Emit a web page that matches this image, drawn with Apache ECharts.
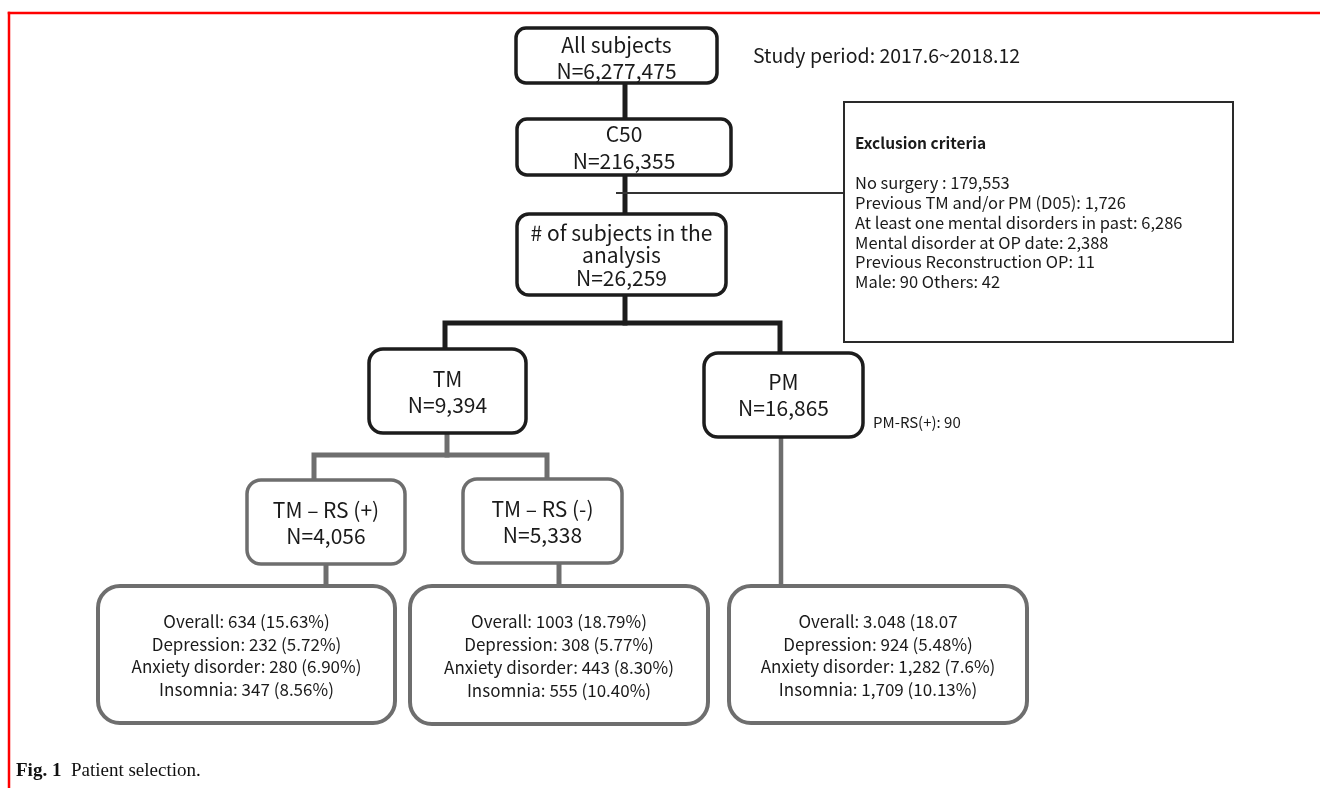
<!DOCTYPE html>
<html>
<head>
<meta charset="utf-8">
<script src="https://cdn.jsdelivr.net/npm/echarts@6/dist/echarts.min.js"></script>
<style>
  html, body { margin: 0; padding: 0; background: #fff; }
  #chart { width: 1320px; height: 788px; }
</style>
</head>
<body>
<div id="chart"></div>
<script>
// flow chart content
var boxTitles = ['All subjects', 'C50', '# of subjects in the\nanalysis', 'TM', 'PM', 'TM \u2013 RS (+)', 'TM \u2013 RS (-)'];
var boxCounts = ['N=6,277,475', 'N=216,355', 'N=26,259', 'N=9,394', 'N=16,865', 'N=4,056', 'N=5,338'];

var outcomeNames = ['Overall', 'Depression', 'Anxiety disorder', 'Insomnia'];
var outcomeTmRsPos = ['634 (15.63%)', '232 (5.72%)', '280 (6.90%)', '347 (8.56%)'];
var outcomeTmRsNeg = ['1003 (18.79%)', '308 (5.77%)', '443 (8.30%)', '555 (10.40%)'];
var outcomePm = ['3.048 (18.07', '924 (5.48%)', '1,282 (7.6%)', '1,709 (10.13%)'];

var exclusionTitle = 'Exclusion criteria';
var exclusionItems = [
    'No surgery : 179,553',
    'Previous TM and/or PM (D05): 1,726',
    'At least one mental disorders in past: 6,286',
    'Mental disorder at OP date: 2,388',
    'Previous Reconstruction OP: 11',
    'Male: 90 Others: 42'
];
var studyPeriod = 'Study period: 2017.6~2018.12';
var pmRsNote = 'PM-RS(+): 90';
var captionBold = 'Fig. 1';
var captionText = 'Patient selection.';

// layout (axis units = pixels)
var BLACK = '#1c1c1c', GRAY = '#6e6e6e';
var boxLayout = [
    { x0: 516, y0: 28,  x1: 717, y1: 83,  r: 10, stroke: BLACK, lw: 3.5, lh: 26, dy: 2.5 },
    { x0: 517, y0: 119, x1: 731, y1: 175, r: 10, stroke: BLACK, lw: 3.5, lh: 27, dy: 1 },
    { x0: 517, y0: 214, x1: 726, y1: 295, r: 12, stroke: BLACK, lw: 3.5, lh: 22.5, dy: 1 },
    { x0: 369, y0: 349, x1: 526, y1: 433, r: 14, stroke: BLACK, lw: 3.5, lh: 26, dy: 1 },
    { x0: 704, y0: 353, x1: 863, y1: 437, r: 14, stroke: BLACK, lw: 3.5, lh: 26, dy: 0 },
    { x0: 247, y0: 480, x1: 405, y1: 564, r: 14, stroke: GRAY, lw: 3.5, lh: 26, dy: 1 },
    { x0: 463, y0: 479, x1: 622, y1: 563, r: 14, stroke: GRAY, lw: 3.5, lh: 26, dy: 1 },
    { x0: 98,  y0: 586, x1: 395, y1: 723, r: 22, stroke: GRAY, lw: 4, lh: 22.7, dy: 1 },
    { x0: 410, y0: 586, x1: 708, y1: 724, r: 22, stroke: GRAY, lw: 4, lh: 22.7, dy: 1 },
    { x0: 729, y0: 586, x1: 1027, y1: 723, r: 22, stroke: GRAY, lw: 4, lh: 22.7, dy: 1 }
];

var boxTexts = [];
for (var i = 0; i < boxTitles.length; i++) {
    boxTexts.push(boxTitles[i] + '\n' + boxCounts[i]);
}
[outcomeTmRsPos, outcomeTmRsNeg, outcomePm].forEach(function (vals) {
    boxTexts.push(outcomeNames.map(function (n, k) { return n + ': ' + vals[k]; }).join('\n'));
});

var connectors = [
    { coords: [[625, 83], [625, 119]], color: BLACK, width: 5 },
    { coords: [[625, 175], [625, 214]], color: BLACK, width: 5 },
    { coords: [[625, 295], [625, 323]], color: BLACK, width: 5 },
    { coords: [[445, 349], [445, 323], [780, 323], [780, 353]], color: BLACK, width: 5 },
    { coords: [[617, 193], [844, 193]], color: '#333', width: 2 },
    { coords: [[447, 433], [447, 455]], color: GRAY, width: 5 },
    { coords: [[314, 480], [314, 455], [547, 455], [547, 479]], color: GRAY, width: 5 },
    { coords: [[326, 564], [326, 586]], color: GRAY, width: 5 },
    { coords: [[559, 563], [559, 586]], color: GRAY, width: 5 },
    { coords: [[781, 437], [781, 586]], color: GRAY, width: 4.5 },
    // red frame
    { coords: [[9, 13], [1320, 13]], color: '#f00', width: 2.5 },
    { coords: [[9, 13], [9, 788]], color: '#f00', width: 2.5 }
];

var SANS = '"Noto Sans CJK KR", "Noto Sans", sans-serif';

var myChart = echarts.init(document.getElementById('chart'));

var option = {
    animation: false,
    grid: { left: 0, right: 0, top: 0, bottom: 0 },
    xAxis: { type: 'value', min: 0, max: 1320, show: false },
    yAxis: { type: 'value', min: 0, max: 788, inverse: true, show: false },
    series: [
        {
            type: 'lines',
            coordinateSystem: 'cartesian2d',
            polyline: true,
            silent: true,
            data: connectors.map(function (c) {
                return { coords: c.coords, lineStyle: { color: c.color, width: c.width, opacity: 1, cap: 'square', join: 'miter' } };
            })
        },
        {
            type: 'custom',
            coordinateSystem: 'cartesian2d',
            clip: false,
            silent: true,
            data: boxTexts.map(function (t, i) { return [i, 0]; }),
            renderItem: function (params, api) {
                var b = boxLayout[params.dataIndex];
                var p0 = api.coord([b.x0, b.y0]);
                var p1 = api.coord([b.x1, b.y1]);
                var big = params.dataIndex < 7;
                return {
                    type: 'group',
                    children: [
                        {
                            type: 'rect',
                            shape: { x: p0[0], y: p0[1], width: p1[0] - p0[0], height: p1[1] - p0[1], r: b.r },
                            style: { fill: '#fff', stroke: b.stroke, lineWidth: b.lw }
                        },
                        {
                            type: 'text',
                            x: (p0[0] + p1[0]) / 2,
                            y: (p0[1] + p1[1]) / 2 + b.dy,
                            style: {
                                text: boxTexts[params.dataIndex],
                                fill: '#1a1a1a',
                                fontFamily: SANS,
                                fontSize: big ? 21 : 17,
                                lineHeight: b.lh,
                                align: 'center',
                                verticalAlign: 'middle'
                            }
                        }
                    ]
                };
            }
        },
        {
            // exclusion box and free notes
            type: 'custom',
            coordinateSystem: 'cartesian2d',
            clip: false,
            silent: true,
            data: [[0, 0]],
            renderItem: function (params, api) {
                var e0 = api.coord([844, 102]);
                var e1 = api.coord([1233, 342]);
                var t0 = api.coord([855, 143]);
                var l0 = api.coord([855, 183]);
                var sp = api.coord([753, 56]);
                var pm = api.coord([873, 422]);
                var cap = api.coord([16, 771]);
                return {
                    type: 'group',
                    children: [
                        {
                            type: 'rect',
                            shape: { x: e0[0], y: e0[1], width: e1[0] - e0[0], height: e1[1] - e0[1] },
                            style: { fill: '#fff', stroke: '#2a2a2a', lineWidth: 2 }
                        },
                        {
                            type: 'text', x: t0[0], y: t0[1],
                            style: { text: exclusionTitle, fill: '#1a1a1a', fontFamily: SANS, fontWeight: 'bold', fontSize: 15.5, align: 'left', verticalAlign: 'middle' }
                        },
                        {
                            type: 'text', x: l0[0], y: l0[1] - 9.9,
                            style: { text: exclusionItems.join('\n'), fill: '#1a1a1a', fontFamily: SANS, fontSize: 16.5, lineHeight: 19.8, align: 'left', verticalAlign: 'top' }
                        },
                        {
                            type: 'text', x: sp[0], y: sp[1],
                            style: { text: studyPeriod, fill: '#1a1a1a', fontFamily: SANS, fontSize: 19.5, align: 'left', verticalAlign: 'middle' }
                        },
                        {
                            type: 'text', x: pm[0], y: pm[1],
                            style: { text: pmRsNote, fill: '#1a1a1a', fontFamily: SANS, fontSize: 15, align: 'left', verticalAlign: 'middle' }
                        },
                        {
                            type: 'text', x: cap[0], y: cap[1],
                            style: {
                                text: '{b|' + captionBold + '}  ' + captionText,
                                fill: '#111', fontFamily: '"Liberation Serif", "DejaVu Serif", serif', fontSize: 19,
                                align: 'left', verticalAlign: 'middle',
                                rich: { b: { fontWeight: 'bold', fontSize: 19, fontFamily: '"Liberation Serif", serif', fill: '#111' } }
                            }
                        }
                    ]
                };
            }
        }
    ]
};

myChart.setOption(option);
window.addEventListener('resize', function () {
    myChart.resize();
});
</script>
</body>
</html>
